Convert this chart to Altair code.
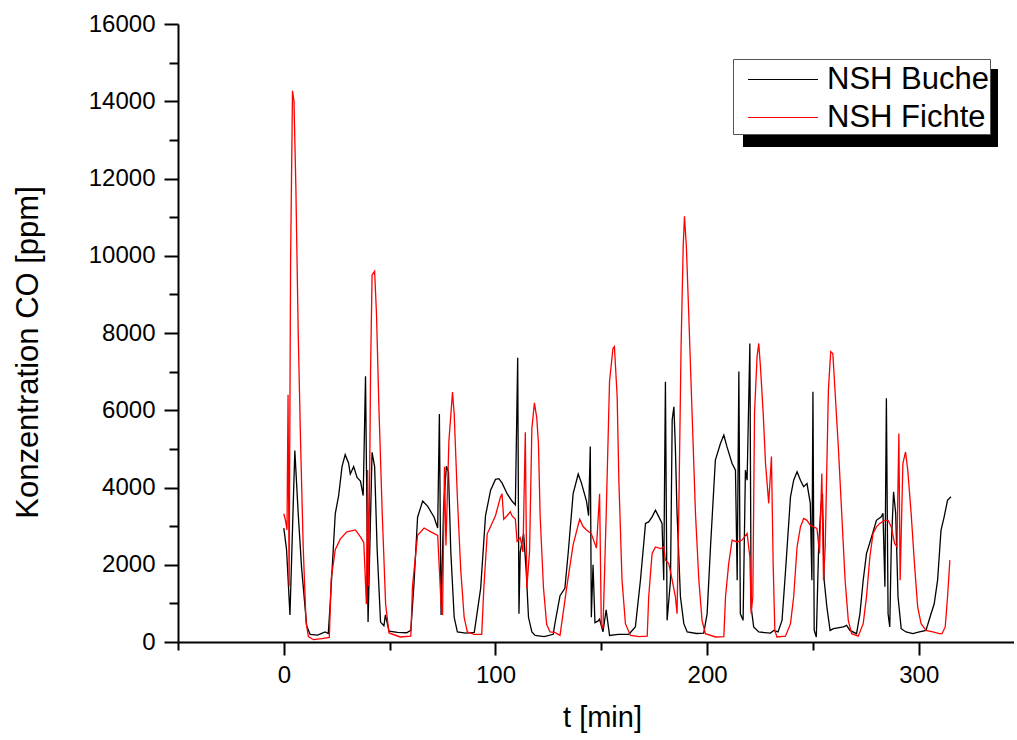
import altair as alt
import pandas as pd

# ---- data ----
t_buche = [0, 1.3, 2.9, 5.2, 6.8, 8.4, 10.8, 12.4, 16, 19.5, 21, 21.9, 24.3, 25.9, 27.5, 29, 30.6, 31.4,
           33, 34.6, 36.2, 37.5, 38.6, 39.8, 41.7, 42.9, 44.1, 45.7, 47.3, 48, 49.7, 53.7, 58, 60, 61.5,
           63.2, 65.6, 68, 71, 72.7, 73.5, 74.3, 75.5, 76.8, 77.8, 78.9, 80.5, 82, 86, 90, 93, 95.3, 97.7,
           100, 101.6, 103.1, 105.5, 107.8, 109.4, 110.5, 111.1, 111.7, 113.3, 114.5, 115.6, 117.2, 118.75,
           123, 127.3, 128, 130.5, 132.8, 134.4, 136.7, 139.1, 140.6, 143, 144, 144.8, 145.3, 146.1, 147,
           148.4, 149.2, 150.8, 152.3, 153.9, 158, 163, 166.1, 168.5, 170.9, 172.4, 174, 175.6, 177.2,
           178.7, 179.5, 180.3, 181.1, 182.7, 183.5, 184.3, 185, 185.8, 187.4, 189, 190.6, 195, 198.4, 200,
           201.6, 203.9, 206.3, 207.9, 209.4, 211.8, 213.4, 214.2, 215, 215.7, 217, 218.1, 218.9, 220.2,
           220.8, 222, 224.4, 229.9, 231.5, 233.5, 235.4, 237, 239.4, 240.9, 242.5, 244.1, 245.6, 247.2,
           248.75, 249.5, 250, 250.6, 251.6, 252.7, 253.75, 254.5, 255.3, 256.6, 258.1, 259.7, 264.4,
           265.9, 267.5, 270.6, 272.2, 273.75, 275.3, 277.7, 280, 282.3, 283.1, 284, 284.7, 285.5, 286.3,
           287, 288.1, 289.1, 290.2, 291.7, 294, 297.2, 300.3, 303.4, 305.8, 307.3, 308.9, 310.5, 312,
           313.6, 315.2]
co_buche = [2950, 2390, 700, 4960, 3320, 1920, 420, 200, 180, 260, 220, 980, 3320, 3790, 4540, 4850, 4630, 4350,
            4540, 4260, 4165, 3790, 6880, 515, 4910, 4540, 2390, 515, 420, 700, 280, 250, 240, 300, 1500,
            3230, 3650, 3510, 3230, 2950, 5900, 700, 3500, 4550, 4400, 2330, 640, 260, 230, 250, 1390, 3270, 3930,
            4210, 4230, 4120, 3840, 3650, 3550, 7360, 730, 2330, 2800, 1860, 640, 260, 170,
            140, 200, 450, 1200, 1390, 2330, 3840, 4350, 4120, 3650, 3270, 5060, 640, 2000, 500,
            540, 590, 260, 830, 170, 200, 200, 390, 1600, 3070, 3110, 3240, 3410, 3240,
            3070, 1600, 6740, 560, 1600, 5750, 6090, 5050, 3330, 1170, 475, 260, 220, 230, 730,
            2460, 4710, 5140, 5360, 5050, 4620, 4450, 1600, 7000, 730, 560, 4450, 4190, 7730,
            900, 390, 260, 230, 300, 260, 560, 1800, 3760, 4190, 4410, 4190, 4020, 4100,
            3590, 1600, 6480, 300, 130, 2460, 3500, 3840, 1600, 900, 300, 345, 390,
            430, 300, 216, 730, 1600, 2290, 2720, 3150, 3240, 3330, 1430, 6310, 730, 390,
            2460, 3890, 3330, 1170, 345, 260, 216, 260, 300, 730, 990, 1600, 2890, 3240,
            3670, 3760]

t_fichte = [0, 0.8, 1.5, 2.0, 2.5, 3.2, 4.1, 4.8, 5.7, 6.8, 7.9, 9.2, 10.5, 11.6, 14, 18, 21.5, 22.4, 24.3,
            26.7, 29.8, 33.8, 36.2, 37.8, 39, 39.6, 40.1, 41, 41.7, 42.9, 43.8, 44.9, 46.5, 48.1, 49.7, 55,
            60, 60.8, 63.2, 66.3, 69.5, 72.7, 74.3, 75, 75.9, 76.6, 78, 79.7, 80.5, 82, 83.6, 85.2, 86.7, 90,
            93.5, 94.5, 96.1, 97.7, 100, 102.3, 103.1, 103.9, 105.5, 107, 107.8, 109.4, 110.2, 111.7, 113,
            114.1, 114.8, 116.1, 117.2, 118.4, 119.5, 120.3, 121.1, 122.7, 124.2, 125.8, 128, 130.5, 133.6,
            136.7, 139.8, 141.4, 143, 145.3, 147.7, 149.2, 150, 150.8, 152.3, 153.9, 155.5, 156.2, 157.5,
            158.3, 159.8, 161.4, 163.8, 168, 171.7, 172.4, 174, 175.6, 178, 179.5, 180.3, 181.9, 183.5, 185,
            185.8, 186.6, 187.7, 188.7, 189.3, 190.2, 191.3, 192.9, 194.5, 196.1, 197.6, 199.2, 204, 207.9,
            208.7, 210.2, 211.8, 214.2, 216.5, 218.9, 220.2, 220.8, 221.6, 222.4, 223.6, 224.4, 225.2, 226.5,
            227.6, 229.1, 230.4, 231.2, 232, 233, 237, 239.4, 240.9, 242.5, 244.1, 245.6, 247.2, 248.75,
            250.3, 251.9, 253.1, 254.2, 255, 255.8, 257.3, 258.4, 259.4, 260.5, 262, 263.6, 265.2, 266.7,
            268.3, 271.4, 273.75, 275.3, 276.9, 278.4, 280, 281.6, 283.9, 285.5, 287, 288.6, 289.7, 290.6,
            291.2, 292.5, 293.75, 294.8, 296.4, 297.97, 299.5, 301.1, 303.4, 306.6, 309.7, 311, 312.5, 313.6,
            314.7]
co_fichte = [3320, 3140, 2900, 6400, 1450, 9870, 14270, 14000, 11750, 8000, 5200, 2390, 515, 140, 60, 90, 120, 1640, 2390,
             2670, 2850, 2900, 2720, 2570, 980, 4450, 1450, 7070, 9500, 9600, 8470, 6130, 3320, 980, 234, 130,
             150, 1450, 2760, 2950, 2850, 2760, 980, 700, 4540, 2500, 5200, 6470, 5900, 3740, 1860, 640, 260, 200,
             200, 1390, 2800, 2990, 3270, 3740, 3840, 3180, 3270, 3370, 3270, 3180, 2610, 2700, 2330,
             5430, 1390, 2330, 5530, 6190, 5810, 5150, 3270, 1390, 450, 260, 250, 170, 1390,
             2520, 3180, 2990, 2900, 2800, 2430, 3840, 450, 350, 3270, 6750, 7600, 7650, 6350,
             4190, 1600, 475, 170, 140, 150, 1170, 2290, 2460, 2420, 2460, 2120, 2030, 1600, 1170,
             730, 3330, 7650, 10240, 11020, 10240, 8510, 5920, 3330, 1600, 560, 216, 130, 140,
             1170, 2030, 2640, 2590, 2640, 2810, 2200, 730, 1170, 5920, 7390, 7730, 7130, 5920,
             4620, 3590, 4800, 2030, 300, 130, 150, 475, 1170, 2460, 2980, 3200, 3150, 3020,
             2980, 2940, 2290, 4360, 1600, 2460, 6520, 7520, 7470, 6440, 5050, 3330, 1600, 560,
             216, 150, 475, 1170, 2200, 2810, 2980, 3070, 3150, 3150, 2980, 2550, 2460, 5400,
             1600, 4620, 4920, 4450, 3330, 2030, 900, 475, 300, 260, 216, 216, 390, 1170,
             2120]

series_names = ["NSH Buche", "NSH Fichte"]
series_colors = ["#000000", "#ff0000"]

x_major = [0, 100, 200, 300]
x_minor = [-50, 50, 150, 250]
y_major = list(range(0, 16001, 2000))
y_minor = list(range(1000, 16000, 2000))

df = pd.concat([
    pd.DataFrame({"t": t_buche, "co": co_buche, "series": series_names[0], "order": range(len(t_buche))}),
    pd.DataFrame({"t": t_fichte, "co": co_fichte, "series": series_names[1], "order": range(len(t_fichte))}),
], ignore_index=True)

FONT = "Liberation Sans"
xscale = alt.Scale(domain=[-50, 345], nice=False, zero=False)
yscale = alt.Scale(domain=[0, 16000], nice=False, zero=True)

lines = alt.Chart(df).mark_line(strokeWidth=1.3, clip=True).encode(
    x=alt.X("t:Q", scale=xscale,
            axis=alt.Axis(values=x_major, orient="bottom", title="t [min]", grid=False, format="d",
                          tickSize=13, tickWidth=2, domainWidth=2, domainColor="#000", tickColor="#000",
                          labelFontSize=24, labelFont=FONT, labelColor="#000", labelPadding=8,
                          titleFontSize=29, titleFont=FONT, titleFontWeight="normal", titleColor="#000",
                          titlePadding=16, titleX=424)),
    y=alt.Y("co:Q", scale=yscale,
            axis=alt.Axis(values=y_major, orient="left", title="Konzentration CO [ppm]", grid=False,
                          format="d",
                          tickSize=14, tickWidth=2, domainWidth=2, domainColor="#000", tickColor="#000",
                          labelFontSize=24, labelFont=FONT, labelColor="#000", labelPadding=9,
                          titleFontSize=31, titleFont=FONT, titleFontWeight="normal", titleColor="#000",
                          titlePadding=44, titleY=328)),
    color=alt.Color("series:N", scale=alt.Scale(domain=series_names, range=series_colors),
                    legend=alt.Legend(title=None, orient="none", legendX=555, legendY=35,
                                      symbolType="M-1.89,0H1.89", symbolSize=1369,
                                      symbolStrokeWidth=1.2, symbolOffset=29.5, labelOffset=24.5,
                                      labelFontSize=31, labelFont=FONT, labelColor="#000",
                                      labelLimit=400, rowPadding=3, padding=1,
                                      strokeColor="#555", fillColor="#ffffff")),
    order="order:Q",
)

minor = alt.Chart(df).mark_line(opacity=0).encode(
    x=alt.X("t:Q", scale=xscale,
            axis=alt.Axis(values=x_minor, orient="bottom", labels=False, domain=False, grid=False,
                          title=None, tickSize=8, tickWidth=2, tickColor="#000")),
    y=alt.Y("co:Q", scale=yscale,
            axis=alt.Axis(values=y_minor, orient="left", labels=False, domain=False, grid=False,
                          title=None, tickSize=9, tickWidth=2, tickColor="#000")),
    detail="series:N",
)

shadow = alt.Chart(alt.Data(values=[{}])).mark_rect(color="#000").encode(
    x=alt.value(565), x2=alt.value(820), y=alt.value(45), y2=alt.value(123)
)

chart = alt.layer(shadow, minor, lines).resolve_axis(
    x="independent", y="independent"
).properties(
    width=836, height=618,
    padding={"left": 178, "top": 24, "right": 0, "bottom": 98},
    autosize=alt.AutoSizeParams(type="none"),
    background="white",
).configure_view(stroke=None)

chart.save("out.html", embed_options={"renderer": "svg", "actions": False})
